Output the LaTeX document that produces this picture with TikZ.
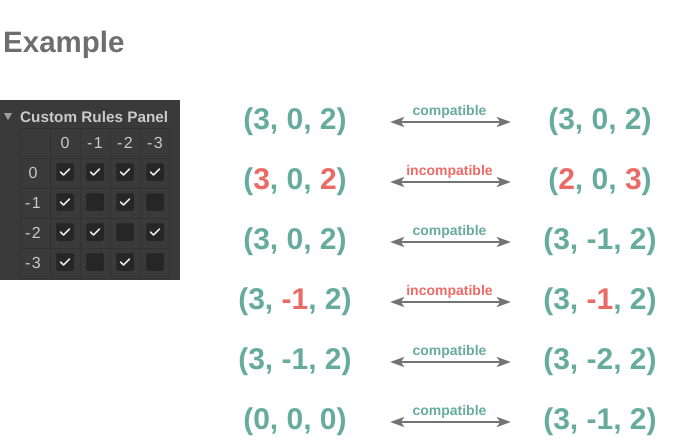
\documentclass[tikz,border=0pt]{standalone}
\usepackage{fontspec}
\setmainfont{Liberation Sans}
\usetikzlibrary{arrows.meta}

\definecolor{tupleteal}{HTML}{67AB9F}
\definecolor{tuplered}{HTML}{EA6B66}
\definecolor{titlegray}{HTML}{6E6E6E}
\definecolor{linkgray}{HTML}{737373}
\definecolor{panelbg}{HTML}{3A3A3A}
\definecolor{panelline}{HTML}{323232}
\definecolor{paneltext}{HTML}{CACACA}
\definecolor{boxfill}{HTML}{262626}
\definecolor{boxline}{HTML}{1C1C1C}

\newcommand{\bad}[1]{\textcolor{tuplered}{#1}}
\newcommand{\minusval}[1]{-\kern1.5pt#1}

\begin{document}
\begin{tikzpicture}[x=1pt, y=-1pt,
    tuple/.style={text=tupleteal, font=\fontsize{30}{36}\bfseries\selectfont, minimum width=130pt, inner sep=0pt},
    link/.style={{Stealth[length=14pt, width=10pt, inset=3.5pt]}-{Stealth[length=14pt, width=10pt, inset=3.5pt]}, linkgray, line width=2pt, shorten <=30pt, shorten >=24pt},
    ok/.style={text=tupleteal, font=\fontsize{14}{16}\bfseries\selectfont, inner sep=0pt, above=3pt, midway, xshift=2pt},
    notok/.style={ok, text=tuplered},
    cell/.style={text=paneltext, font=\fontsize{16}{18}\selectfont, inner sep=0pt},
    checkbox/.style={draw=boxline, fill=boxfill, rounded corners=2pt, minimum size=17pt, inner sep=0pt},
    tick/.style={draw=white!90!black, line width=1.6pt, line cap=round, line join=round}]
    \useasboundingbox (0,0) rectangle (691,442);

    %Title
    \node[anchor=west, inner sep=0pt, text=titlegray, font=\fontsize{29.5}{34}\bfseries\selectfont] at (3,45) (title) {Example};

    %Panel
    \fill[panelbg] (0,100) rectangle (180,280);
    \fill[paneltext!70!panelbg] (4,113) -- (12,113) -- (8,120) -- cycle;
    \node[anchor=west, inner sep=0pt, text=paneltext, font=\fontsize{15.3}{18}\bfseries\selectfont] at (20,117) (header) {Custom Rules Panel};
    \foreach \x in {20,50,...,140} \draw[panelline] (\x,128) -- (\x,278);
    \draw[panelline] (169,128) -- (169,278);
    \foreach \y in {128,158,...,248} \draw[panelline] (20,\y) -- (169,\y);
    \draw[panelline] (20,278) -- (169,278);

    \node[cell] at (65,143) (col0) {0};
    \node[cell] at (95,143) (col1) {\minusval{1}};
    \node[cell] at (125,143) (col2) {\minusval{2}};
    \node[cell] at (155,143) (col3) {\minusval{3}};
    \node[cell] at (33,173) (row0) {0};
    \node[cell] at (33,203) (row1) {\minusval{1}};
    \node[cell] at (33,233) (row2) {\minusval{2}};
    \node[cell] at (33,263) (row3) {\minusval{3}};

    \foreach \i in {0,...,3}
        \foreach \j in {0,...,3}
            \node[checkbox] at (65+30*\j,172+30*\i) (box\i\j) {};
    \foreach \i/\j in {0/0,0/1,0/2,0/3,1/0,1/2,2/0,2/1,2/3,3/0,3/2}
        \draw[tick] (box\i\j.center) ++(-4.5,0) -- ++(3,3) -- ++(6,-6);

    %Nodes
    \node[tuple] at (295,122) (l1) {(3, 0, 2)};
    \node[tuple] at (600,122) (r1) {(3, 0, 2)};
    \node[tuple] at (295,182) (l2) {(\bad{3}, 0, \bad{2})};
    \node[tuple] at (600,182) (r2) {(\bad{2}, 0, \bad{3})};
    \node[tuple] at (295,242) (l3) {(3, 0, 2)};
    \node[tuple] at (600,242) (r3) {(3, -1, 2)};
    \node[tuple] at (295,302) (l4) {(3, \bad{-1}, 2)};
    \node[tuple] at (600,302) (r4) {(3, \bad{-1}, 2)};
    \node[tuple] at (295,362) (l5) {(3, -1, 2)};
    \node[tuple] at (600,362) (r5) {(3, -2, 2)};
    \node[tuple] at (295,422) (l6) {(0, 0, 0)};
    \node[tuple] at (600,422) (r6) {(3, -1, 2)};

    %Lines
    \draw[link] (l1) -- (r1) node[ok] {compatible};
    \draw[link] (l2) -- (r2) node[notok] {incompatible};
    \draw[link] (l3) -- (r3) node[ok] {compatible};
    \draw[link] (l4) -- (r4) node[notok] {incompatible};
    \draw[link] (l5) -- (r5) node[ok] {compatible};
    \draw[link] (l6) -- (r6) node[ok] {compatible};

\end{tikzpicture}
\end{document}
